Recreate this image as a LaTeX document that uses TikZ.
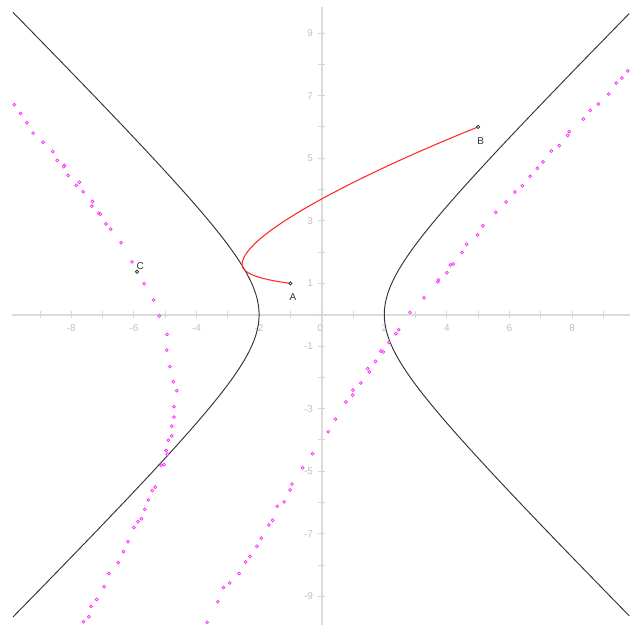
\documentclass[tikz,border=0pt]{standalone}
\usepackage{fontspec}
\setmainfont{Liberation Sans}
\definecolor{mag}{RGB}{255,40,255}
\definecolor{redc}{RGB}{255,40,40}
\begin{document}
\begin{tikzpicture}[x=0.939cm,y=0.939cm,
  axisline/.style={draw=black!14,line width=1.6pt},
  tickmark/.style={draw=black!16,line width=0.8pt},
  ticklabel/.style={text=black!24,font=\fontsize{8.5}{9}\selectfont,inner sep=0pt},
  hyp/.style={draw=black!80,line width=0.8pt},
  redcurve/.style={draw=redc,line width=0.9pt},
  mdot/.style={draw=mag,line width=0.6pt,fill=white},
  pt/.style={circle,draw=black!85,fill=white,line width=0.6pt,inner sep=0pt,minimum size=0.1cm},
  ptlabel/.style={text=black!80,font=\fontsize{8.5}{9}\selectfont,inner sep=0pt}]
\useasboundingbox[fill=white] (-10.278,-9.914) rectangle (9.978,10.054);
% axes
\coordinate (xl) at (-9.89,0);
\coordinate (xr) at (9.85,0);
\coordinate (yb) at (0,-9.914);
\coordinate (yt) at (0,9.83);
\draw[axisline] (xl) -- (xr);
\draw[axisline] (yb) -- (yt);
\foreach \i in {-9,...,9} {
  \draw[tickmark] (\i,-0.105) -- (\i,0.105);
  \draw[tickmark] (-0.115,\i) -- (0.115,\i);
}
\foreach \i in {-8,-6,-4,-2,2,4,6,8}
  \node[ticklabel] (xlab\i) at (\i,-0.43) {\i};
\node[ticklabel] (xlab0) at (-0.05,-0.43) {0};
\foreach \i in {-9,-7,-5,-3,-1,1,3,5,7,9}
  \node[ticklabel,anchor=east] (ylab\i) at (-0.27,\i) {\i};
% hyperbola x^2 - y^2 = 4
\draw[hyp] plot[domain=-9.62:9.62,samples=121,variable=\t] ({sqrt(4+\t*\t)},\t);
\draw[hyp] plot[domain=-9.66:9.66,samples=121,variable=\t] ({-sqrt(4+\t*\t)},\t);
% magenta locus
\foreach \p in {(-9.82,6.71),(-9.62,6.43),(-9.42,6.13),(-9.22,5.8),(-8.9,5.51),(-8.59,5.21),(-8.45,4.93),(-8.22,4.77),(-8.24,4.73),(-8.1,4.45),(-7.74,4.23),(-7.84,4.13),(-7.62,3.93),(-7.32,3.62),(-7.34,3.47),(-7.12,3.24),(-7.07,3.21),(-6.89,2.9),(-6.74,2.73),(-6.41,2.3),(-6.06,1.69),(-5.67,0.99),(-5.37,0.47),(-5.19,-0.04),(-4.94,-0.63),(-4.95,-1.13),(-4.85,-1.66),(-4.74,-2.14),(-4.63,-2.43),(-4.72,-2.94),(-4.72,-3.27),(-4.79,-3.56),(-4.79,-3.87),(-4.9,-4.01),(-4.97,-4.34),(-4.93,-4.46),(-5.04,-4.79),(-5.13,-4.81),(-5.32,-5.51),(-5.41,-5.62),(-5.54,-5.92),(-5.65,-6.22),(-5.76,-6.52),(-5.87,-6.61),(-6.0,-6.8),(-6.19,-7.25),(-6.33,-7.57),(-6.5,-7.92),(-6.8,-8.27),(-6.95,-8.69),(-7.19,-9.1),(-7.37,-9.32),(-7.44,-9.65),(-7.61,-9.81),
(-3.66,-9.83),(-3.32,-9.17),(-3.14,-8.72),(-2.94,-8.57),(-2.64,-8.27),(-2.43,-7.9),(-2.29,-7.72),(-2.07,-7.4),(-1.93,-7.14),(-1.69,-6.72),(-1.57,-6.57),(-1.42,-6.12),(-1.2,-5.98),(-1.01,-5.6),(-0.95,-5.41),(-0.61,-4.89),(-0.29,-4.44),(0.21,-3.74),(0.44,-3.34),(0.77,-2.79),(0.99,-2.57),(1.0,-2.41),(1.25,-2.18),(1.52,-1.83),(1.47,-1.72),(1.72,-1.49),(1.97,-1.19),(1.89,-1.16),(2.15,-0.89),(2.37,-0.61),(2.46,-0.48),(2.82,0.07),(3.27,0.54),(3.71,1.05),(3.73,1.11),(4.0,1.34),(4.11,1.59),(4.2,1.62),(4.48,1.99),(4.63,2.25),(4.98,2.55),(5.15,2.84),(5.56,3.27),(5.89,3.6),(6.17,3.92),(6.41,4.12),(6.66,4.42),(6.89,4.68),(7.07,4.88),(7.34,5.23),(7.59,5.4),(7.86,5.73),(7.91,5.85),(8.36,6.25),(8.58,6.53),(8.84,6.73),(9.17,7.05),(9.41,7.4),(9.59,7.56),(9.78,7.79)}
  \draw[mdot] \p circle[radius=0.047];
% points
\coordinate (Ac) at (-1,1);
\coordinate (Bc) at (5,6);
\coordinate (V) at (-2.545,1.6);
% red curve
\draw[redcurve] (Ac) .. controls (-1.9,1.12) and (-2.545,1.3) .. (V)
  .. controls (-2.545,2.6) and (1.5,4.6) .. (Bc);
\node[pt] (A) at (Ac) {};
\node[pt] (B) at (Bc) {};
\node[pt] (C) at (-5.9,1.37) {};
\node[ptlabel] (Alab) at (-0.92,0.57) {A};
\node[ptlabel] (Blab) at (5.08,5.55) {B};
\node[ptlabel] (Clab) at (-5.8,1.56) {C};
\end{tikzpicture}
\end{document}
